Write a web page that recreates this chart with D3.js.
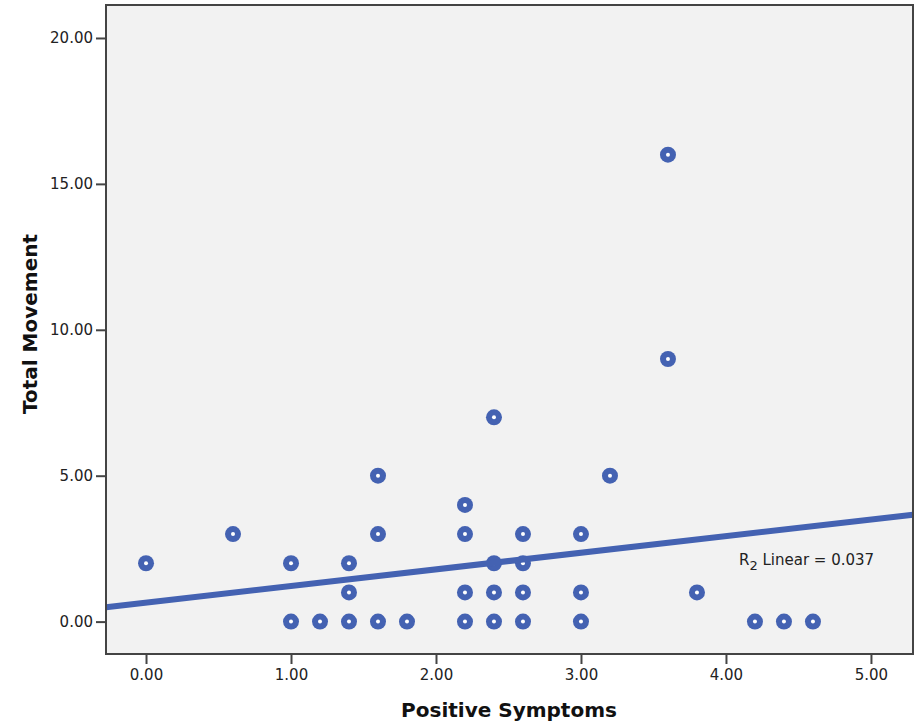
<!DOCTYPE html>
<html>
<head>
  <meta charset="utf-8">
  <title>Total Movement vs Positive Symptoms</title>
  <style>
    body { margin: 0; background: #fff; }
    .tick text { font-family: "DejaVu Sans", sans-serif; font-size: 15px; fill: #222; }
    .axis-title { font-family: "DejaVu Sans", sans-serif; font-weight: bold; font-size: 20px; fill: #111; }
    .fit-label { font-family: "DejaVu Sans", sans-serif; font-size: 15px; fill: #222; }
  </style>
</head>
<body>
  <svg id="chart"></svg>

  <script src="https://d3js.org/d3.v7.min.js"></script>
  <script>
    // data
    const positiveSymptoms = [0, 0.6, 1.0, 1.0, 1.2, 1.4, 1.4, 1.4, 1.6, 1.6, 1.6, 1.8,
      2.2, 2.2, 2.2, 2.2, 2.4, 2.4, 2.4, 2.4, 2.6, 2.6, 2.6, 2.6,
      3.0, 3.0, 3.0, 3.2, 3.6, 3.6, 3.8, 4.2, 4.4, 4.6];
    const totalMovement = [2, 3, 2, 0, 0, 2, 1, 0, 5, 3, 0, 0,
      4, 3, 1, 0, 7, 2, 1, 0, 3, 2, 1, 0,
      3, 1, 0, 5, 16, 9, 1, 0, 0, 0];
    const xTicks = [0, 1, 2, 3, 4, 5];
    const yTicks = [0, 5, 10, 15, 20];
    // linear fit shown on the chart
    const fitIntercept = 0.65;
    const fitSlope = 0.57;
    const fitLabel = "0.037";

    const width = 919, height = 726;
    const margin = { top: 5, right: 6, bottom: 72, left: 106 };
    const blue = "#4462b2";

    const svg = d3.select("#chart")
      .attr("width", width)
      .attr("height", height);

    const x = d3.scaleLinear()
      .domain([-0.276, 5.29])
      .range([margin.left, width - margin.right]);

    const y = d3.scaleLinear()
      .domain([-1.11, 21.13])
      .range([height - margin.bottom, margin.top]);

    // plot background
    svg.append("rect")
      .attr("x", margin.left)
      .attr("y", margin.top)
      .attr("width", width - margin.left - margin.right)
      .attr("height", height - margin.top - margin.bottom)
      .attr("fill", "#f2f2f2");

    const points = positiveSymptoms.map((v, i) => ({ x: v, y: totalMovement[i] }));

    const plot = svg.append("g");

    plot.selectAll(".dot")
      .data(points)
      .enter().append("circle")
      .attr("class", "dot")
      .attr("cx", d => x(d.x))
      .attr("cy", d => y(d.y))
      .attr("r", 8)
      .attr("fill", blue);

    plot.selectAll(".hole")
      .data(points)
      .enter().append("circle")
      .attr("class", "hole")
      .attr("cx", d => x(d.x))
      .attr("cy", d => y(d.y))
      .attr("r", 2)
      .attr("fill", "#fff");

    // fit line over the whole x range
    const xd = x.domain();
    plot.append("line")
      .attr("x1", x(xd[0]))
      .attr("y1", y(fitIntercept + fitSlope * xd[0]))
      .attr("x2", x(xd[1]))
      .attr("y2", y(fitIntercept + fitSlope * xd[1]))
      .attr("stroke", blue)
      .attr("stroke-width", 6);

    // R2 label
    const lab = svg.append("text")
      .attr("class", "fit-label")
      .attr("x", x(4.09))
      .attr("y", y(1.93));
    lab.append("tspan").text("R");
    lab.append("tspan").attr("dy", 5).attr("font-size", "13px").text("2");
    lab.append("tspan").attr("dy", -5).text(" Linear = " + fitLabel);

    // frame
    svg.append("rect")
      .attr("x", margin.left)
      .attr("y", margin.top)
      .attr("width", width - margin.left - margin.right)
      .attr("height", height - margin.top - margin.bottom)
      .attr("fill", "none")
      .attr("stroke", "#444")
      .attr("stroke-width", 2);

    // axes
    const xAxis = svg.append("g")
      .attr("transform", `translate(0,${height - margin.bottom})`)
      .call(d3.axisBottom(x).tickValues(xTicks).tickFormat(d3.format(".2f")).tickSize(10).tickPadding(5));

    const yAxis = svg.append("g")
      .attr("transform", `translate(${margin.left},0)`)
      .call(d3.axisLeft(y).tickValues(yTicks).tickFormat(d3.format(".2f")).tickSize(10).tickPadding(3));

    [xAxis, yAxis].forEach(a => {
      a.select(".domain").remove();
      a.selectAll(".tick line").attr("stroke", "#444").attr("stroke-width", 2);
    });

    // axis titles
    svg.append("text")
      .attr("class", "axis-title")
      .attr("x", 509)
      .attr("y", 717)
      .attr("text-anchor", "middle")
      .text("Positive Symptoms");

    svg.append("text")
      .attr("class", "axis-title")
      .attr("transform", "translate(37,324) rotate(-90)")
      .attr("text-anchor", "middle")
      .text("Total Movement");
  </script>
</body>
</html>
